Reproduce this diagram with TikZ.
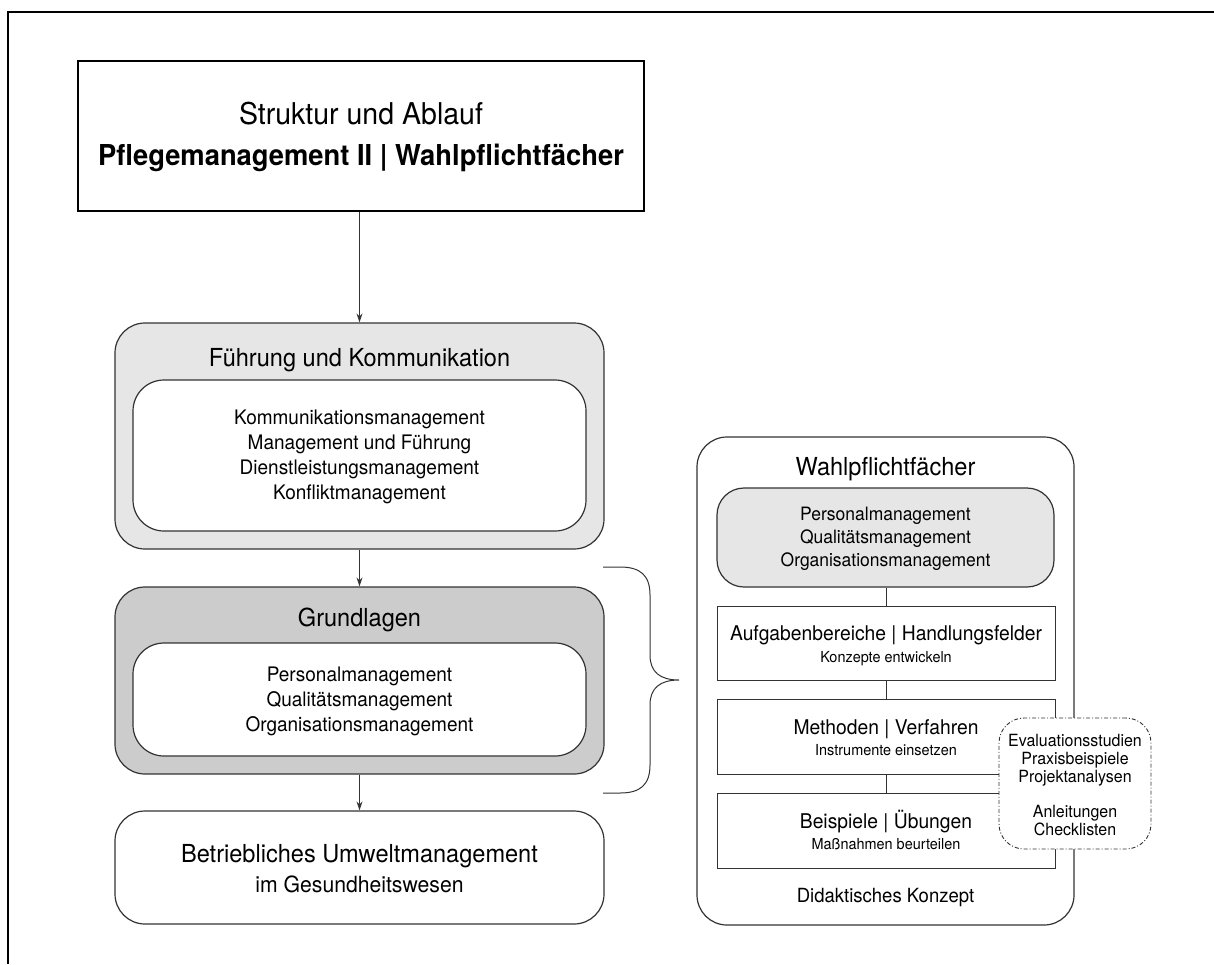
\documentclass[tikz,border=0pt]{standalone}
\usepackage{fontspec}
\setmainfont{TeX Gyre Heros}[FakeStretch=0.95]
\usetikzlibrary{arrows.meta}

\definecolor{ink}{HTML}{333333}
\definecolor{lightfill}{HTML}{E6E6E6}
\definecolor{midfill}{HTML}{CCCCCC}

\begin{document}
\begin{tikzpicture}[x=1pt,y=-1pt,
  frameline/.style={line width=1.5pt,black},
  titlebox/.style={draw=black,line width=2pt,fill=white,inner sep=0pt},
  groupbox/.style={draw=ink,line width=1.2pt,rounded corners=30pt,inner sep=0pt},
  innerbox/.style={draw=ink,line width=1.2pt,fill=white,rounded corners=31pt,inner sep=0pt},
  stepbox/.style={draw=ink,line width=1pt,fill=white,inner sep=0pt,minimum width=338pt,minimum height=75pt},
  notebox/.style={draw=ink,line width=0.9pt,fill=white,rounded corners=25pt,inner sep=0pt,
    dash pattern=on 4pt off 2pt on 1pt off 2pt},
  link/.style={draw=ink,line width=1pt},
  arrow/.style={link,-{Stealth[length=9pt,width=6pt]}},
  headtext/.style={inner sep=0pt,font=\fontsize{24.8}{30}\selectfont},
  listtext/.style={inner sep=0pt,align=center,font=\fontsize{20}{25}\selectfont},
  steptext/.style={inner sep=0pt,font=\fontsize{20.3}{24}\selectfont},
  subtext/.style={inner sep=0pt,font=\fontsize{15.2}{18}\selectfont},
]
\useasboundingbox (0,0) rectangle (1214,964);

% outer frame (top and left edges)
\coordinate (frTL) at (8,12);
\coordinate (frTR) at (1214,12);
\coordinate (frBL) at (8,964);
\draw[frameline] (frTR) -- (frTL) -- (frBL);

% title block
\node[titlebox,minimum width=566pt,minimum height=150pt] (title) at (361,136) {};
\node[inner sep=0pt,anchor=base,font=\fontsize{30}{36}\selectfont] (titleA) at (361,124) {Struktur und Ablauf};
\node[inner sep=0pt,anchor=base,font=\fontsize{28.8}{34}\selectfont\bfseries] (titleB) at (361,165) {Pflegemanagement II | Wahlpflichtfächer};

% Führung und Kommunikation
\node[groupbox,fill=lightfill,minimum width=489pt,minimum height=226pt] (fk) at (359.5,436) {};
\node[headtext,anchor=base] (fkT) at (359.5,366) {Führung und Kommunikation};
\node[innerbox,minimum width=453pt,minimum height=151pt] (fkIn) at (359.5,455.5) {};
\node[listtext] (fkL) at (359.5,457) {Kommunikationsmanagement\\Management und Führung\\Dienstleistungsmanagement\\Konfliktmanagement};

% Grundlagen
\node[groupbox,fill=midfill,minimum width=489pt,minimum height=187pt] (gl) at (359.5,680.5) {};
\node[headtext,anchor=base] (glT) at (359.5,626) {Grundlagen};
\node[innerbox,minimum width=453pt,minimum height=113pt] (glIn) at (359.5,699.5) {};
\node[listtext] (glL) at (359.5,701) {Personalmanagement\\Qualitätsmanagement\\Organisationsmanagement};

% Betriebliches Umweltmanagement
\node[groupbox,fill=white,minimum width=489pt,minimum height=113pt] (be) at (359.5,867.5) {};
\node[headtext,anchor=base] (beA) at (359.5,862) {Betriebliches Umweltmanagement};
\node[inner sep=0pt,anchor=base,font=\fontsize{22.3}{27}\selectfont] (beB) at (359.5,892) {im Gesundheitswesen};

% arrows down the left column
\draw[arrow] (fk.north |- title.south) -- (fk.north);
\draw[arrow] (fk.south) -- (gl.north);
\draw[arrow] (gl.south) -- (be.north);

% curly brace next to Grundlagen
\coordinate (brTop) at (603,567);
\coordinate (brTip) at (679,680);
\coordinate (brBot) at (603,793);
\draw[link] (brTop) -- (620,567) .. controls (640,567) and (650,575) .. (650,595)
  -- (650,655) .. controls (650,672) and (660,680) .. (brTip)
  .. controls (660,680) and (650,688) .. (650,705)
  -- (650,765) .. controls (650,785) and (640,793) .. (620,793) -- (brBot);

% Wahlpflichtfächer column
\node[groupbox,fill=white,minimum width=377pt,minimum height=488pt] (wp) at (885.5,681) {};
\node[headtext,anchor=base] (wpT) at (885.5,475) {Wahlpflichtfächer};
\node[groupbox,rounded corners=27pt,fill=lightfill,minimum width=337pt,minimum height=99pt] (pm) at (885.5,537.5) {};
\node[inner sep=0pt,align=center,font=\fontsize{18.4}{23}\selectfont] (pmL) at (885.5,539) {Personalmanagement\\Qualitätsmanagement\\Organisationsmanagement};

\node[stepbox,minimum height=74pt] (ah) at (886,643) {};
\node[steptext,anchor=base] (ahA) at (886,640.3) {Aufgabenbereiche | Handlungsfelder};
\node[subtext,anchor=base] (ahB) at (886,662.5) {Konzepte entwickeln};

\node[stepbox] (mv) at (886,736.5) {};
\node[steptext,anchor=base] (mvA) at (886,734.3) {Methoden | Verfahren};
\node[subtext,anchor=base] (mvB) at (886,755.5) {Instrumente einsetzen};

\node[stepbox] (bu) at (886,830.5) {};
\node[steptext,anchor=base] (buA) at (886,828.3) {Beispiele | Übungen};
\node[subtext,anchor=base] (buB) at (886,849.5) {Maßnahmen beurteilen};

\draw[link] (ah.north |- pm.south) -- (ah.north);
\draw[link] (ah.south) -- (mv.north);
\draw[link] (mv.south) -- (bu.north);

\node[inner sep=0pt,anchor=base,font=\fontsize{19.5}{24}\selectfont] (dk) at (885.5,902) {Didaktisches Konzept};

% material note overlapping the steps
\node[notebox,minimum width=152pt,minimum height=131pt] (ev) at (1075,783.5) {};
\node[inner sep=0pt,align=center,font=\fontsize{16.8}{17.8}\selectfont] (evL) at (1075,785)
  {Evaluationsstudien\\Praxisbeispiele\\Projektanalysen\\[17.8pt]Anleitungen\\Checklisten};
\end{tikzpicture}
\end{document}
